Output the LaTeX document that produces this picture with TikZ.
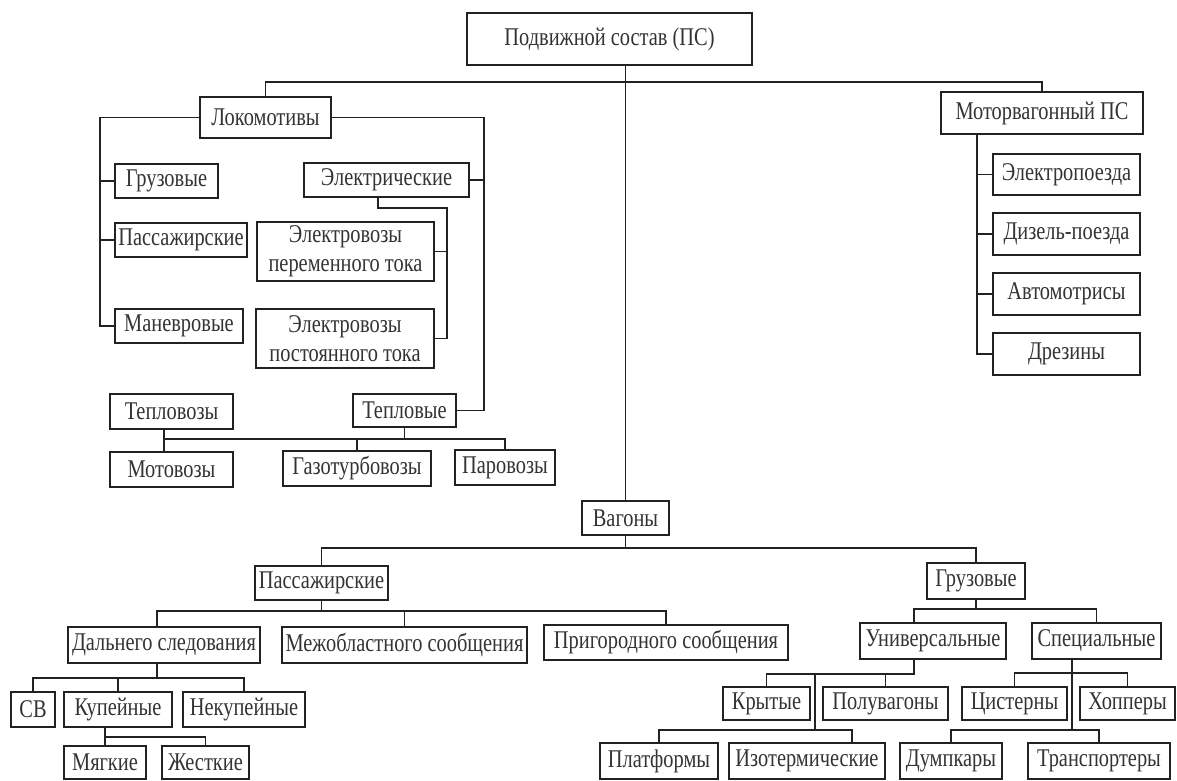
\documentclass[tikz,border=0pt]{standalone}
\usepackage{fontspec}
\setmainfont{Liberation Serif}[FakeStretch=0.8]
\definecolor{ink}{HTML}{222222}
\definecolor{txt}{HTML}{333333}
\newcommand\mybox[6]{\node[box, minimum width={(#4-#2)*1pt}, minimum height={(#5-#3)*1pt}] (#1) at ({(#2+#4)/2},{(#3+#5)/2}) {#6};}
\begin{document}
\begin{tikzpicture}[x=1pt,y=-1pt,
  box/.style={draw=ink, line width=2.2pt, inner sep=0pt, text=txt, align=center,
    font=\fontsize{25.5}{28.5}\selectfont},
  con/.style={draw=ink, line width=1.3pt}]
\fill[white] (0,0) rectangle (1177,780);
\useasboundingbox (0,0) rectangle (1177,780);
% boxes
\mybox{ps}{467}{13}{752}{65}{Подвижной состав (ПС)}
\mybox{loko}{200}{97}{331}{138}{Локомотивы}
\mybox{mvps}{941}{92}{1143}{134}{Моторвагонный ПС}
\mybox{gruzL}{115}{164}{218}{198}{Грузовые}
\mybox{elec}{304}{163}{469}{197}{Электрические}
\mybox{passL}{115}{223}{247}{257}{Пассажирские}
\mybox{elper}{257}{222}{434}{281}{Электровозы\\переменного тока}
\mybox{manev}{115}{309}{243}{343}{Маневровые}
\mybox{elpost}{256}{309}{434}{368}{Электровозы\\постоянного тока}
\mybox{teplovozy}{110}{394}{233}{429}{Тепловозы}
\mybox{teplovye}{353}{394}{456}{427}{Тепловые}
\mybox{motovozy}{110}{452}{233}{487}{Мотовозы}
\mybox{gazo}{283}{451}{431}{486}{Газотурбовозы}
\mybox{paro}{455}{450}{555}{485}{Паровозы}
\mybox{elpoezd}{993}{154}{1140}{195}{Электропоезда}
\mybox{dizel}{993}{213}{1140}{255}{Дизель-поезда}
\mybox{avto}{993}{273}{1140}{315}{Автомотрисы}
\mybox{drez}{993}{333}{1140}{375}{Дрезины}
\mybox{vagony}{582}{501}{669}{535}{Вагоны}
\mybox{passV}{255}{566}{388}{600}{Пассажирские}
\mybox{gruzV}{927}{563}{1025}{599}{Грузовые}
\mybox{dalnego}{68}{627}{260}{663}{Дальнего следования}
\mybox{mezhobl}{282}{627}{527}{663}{Межобластного сообщения}
\mybox{prigor}{544}{625}{788}{660}{Пригородного сообщения}
\mybox{univ}{860}{623}{1006}{659}{Универсальные}
\mybox{spec}{1032}{623}{1161}{659}{Специальные}
\mybox{sv}{11}{692}{55}{727}{СВ}
\mybox{kupe}{64}{692}{172}{727}{Купейные}
\mybox{nekupe}{183}{692}{305}{727}{Некупейные}
\mybox{myagk}{64}{746}{146}{779}{Мягкие}
\mybox{zhestk}{162}{746}{249}{779}{Жесткие}
\mybox{kryt}{723}{687}{810}{720}{Крытые}
\mybox{poluv}{823}{687}{948}{720}{Полувагоны}
\mybox{cist}{962}{687}{1067}{720}{Цистерны}
\mybox{hopp}{1080}{687}{1175}{720}{Хопперы}
\mybox{platf}{600}{743}{718}{779}{Платформы}
\mybox{izot}{729}{743}{885}{779}{Изотермические}
\mybox{dump}{900}{743}{1002}{779}{Думпкары}
\mybox{transp}{1028}{743}{1170}{779}{Транспортеры}
% helper coordinates
\coordinate (topbus) at (0,82);
\coordinate (lx) at (100,0);
\coordinate (rx) at (484,0);
\coordinate (ex) at (447,208);
\coordinate (ecx) at (378,0);
\coordinate (tbus) at (0,439);
\coordinate (tvx) at (164,0);
\coordinate (mx) at (977,0);
\coordinate (vbus) at (0,548);
\coordinate (pbus) at (0,611);
\coordinate (dbus) at (0,678);
\coordinate (dx) at (157,0);
\coordinate (kbus) at (0,737);
\coordinate (gbus) at (0,609);
\coordinate (ux) at (914,0);
\coordinate (ubus) at (0,674);
\coordinate (uv) at (815,0);
\coordinate (ubus2) at (0,730);
\coordinate (izx) at (852,0);
\coordinate (sx) at (1072,0);
\coordinate (sbus) at (0,673);
% root
\draw[con] (ps.south -| vagony.north) -- (vagony.north);
\draw[con] (loko.north) -- (loko.north |- topbus) -- (mvps.north |- topbus) -- (mvps.north);
% locomotives left
\draw[con] (loko.west) -- (loko.west -| lx) -- (manev.west -| lx) -- (manev.west);
\draw[con] (gruzL.west) -- (gruzL.west -| lx);
\draw[con] (passL.west) -- (passL.west -| lx);
% locomotives right
\draw[con] (loko.east) -- (loko.east -| rx) -- (teplovye.east -| rx) -- (teplovye.east);
\draw[con] (elec.east) -- (elec.east -| rx);
% electric
\draw[con] (elec.south -| ecx) -- (ecx |- ex) -- (ex) -- (ex |- elpost.east) -- (elpost.east);
\draw[con] (elper.east) -- (elper.east -| ex);
% thermal
\draw[con] (teplovozy.south -| tvx) -- (motovozy.north -| tvx);
\draw[con] (tvx |- tbus) -- (paro.north |- tbus) -- (paro.north);
\draw[con] (teplovye.south) -- (teplovye.south |- tbus);
\draw[con] (gazo.north) -- (gazo.north |- tbus);
% motor-car rolling stock
\draw[con] (mvps.south -| mx) -- (drez.west -| mx) -- (drez.west);
\foreach \n in {elpoezd,dizel,avto} \draw[con] (\n.west) -- (\n.west -| mx);
% wagons
\draw[con] (vagony.south) -- (vagony.south |- vbus);
\draw[con] (passV.north) -- (passV.north |- vbus) -- (gruzV.north |- vbus) -- (gruzV.north);
% passenger wagons
\draw[con] (passV.south) -- (passV.south |- pbus);
\draw[con] (dalnego.north -| dx) -- (dx |- pbus) -- (prigor.north |- pbus) -- (prigor.north);
\draw[con] (mezhobl.north) -- (mezhobl.north |- pbus);
\draw[con] (dalnego.south -| dx) -- (dx |- dbus);
\draw[con] (sv.north) -- (sv.north |- dbus) -- (nekupe.north |- dbus) -- (nekupe.north);
\draw[con] (kupe.north) -- (kupe.north |- dbus);
\draw[con] (kupe.south -| myagk.north) -- (myagk.north);
\draw[con] (myagk.north |- kbus) -- (zhestk.north |- kbus) -- (zhestk.north);
% freight wagons
\draw[con] (gruzV.south) -- (gruzV.south |- gbus);
\draw[con] (univ.north -| ux) -- (ux |- gbus) -- (spec.north |- gbus) -- (spec.north);
\draw[con] (univ.south -| ux) -- (ux |- ubus) -- (kryt.north |- ubus) -- (kryt.north);
\draw[con] (poluv.north) -- (poluv.north |- ubus);
\draw[con] (uv |- ubus) -- (uv |- ubus2);
\draw[con] (platf.north) -- (platf.north |- ubus2) -- (izx |- ubus2) -- (izot.north -| izx);
\draw[con] (spec.south -| sx) -- (sx |- ubus2);
\draw[con] (cist.north) -- (cist.north |- sbus) -- (hopp.north |- sbus) -- (hopp.north);
\draw[con] (dump.north) -- (dump.north |- ubus2) -- (transp.north |- ubus2) -- (transp.north);
\end{tikzpicture}
\end{document}
